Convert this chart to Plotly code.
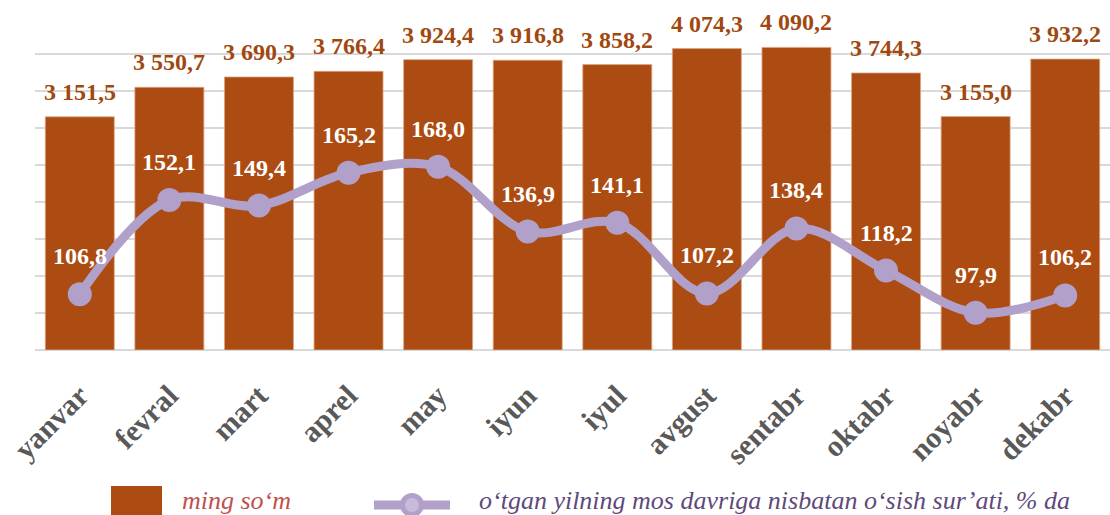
import plotly.graph_objects as go

months = ["yanvar", "fevral", "mart", "aprel", "may", "iyun", "iyul",
          "avgust", "sentabr", "oktabr", "noyabr", "dekabr"]
ming_som = [3151.5, 3550.7, 3690.3, 3766.4, 3924.4, 3916.8, 3858.2,
            4074.3, 4090.2, 3744.3, 3155.0, 3932.2]
osish = [106.8, 152.1, 149.4, 165.2, 168.0, 136.9, 141.1,
         107.2, 138.4, 118.2, 97.9, 106.2]
bar_name = "ming so‘m"
line_name = "o‘tgan yilning mos davriga nisbatan o‘sish sur’ati, % da"

W, H = 1110, 515
ML, MR, MT, MB = 35, 0, 17, 165
PW, PH = W - ML - MR, H - MT - MB

BAR_C = "#AD4C12"
BAR_LBL = "#A0480F"
LINE_C = "#B1A0C9"
SERIF = "Liberation Serif, Times New Roman, serif"


def fmt(v):
    return f"{v:,.1f}".replace(",", " ").replace(".", ",")


def px(x):
    return (x - ML) / PW


def py(y):
    return (H - MB - y) / PH


fig = go.Figure()
fig.add_trace(go.Bar(
    x=months, y=ming_som, name=bar_name,
    marker=dict(color=BAR_C, line=dict(color="#D9A583", width=0.8)),
    showlegend=False, hoverinfo="skip",
))
fig.add_trace(go.Scatter(
    x=months, y=osish, name=line_name, yaxis="y2",
    mode="lines+markers",
    line=dict(color=LINE_C, width=9, shape="spline", smoothing=1.0),
    marker=dict(color=LINE_C, size=24),
    showlegend=False, hoverinfo="skip",
))

annotations = []
for m, v in zip(months, ming_som):
    annotations.append(dict(
        x=m, y=v, xref="x", yref="y", text=fmt(v), showarrow=False,
        yanchor="middle", yshift=25,
        font=dict(family=SERIF, size=24, color=BAR_LBL, weight="bold"),
    ))
for m, v in zip(months, osish):
    annotations.append(dict(
        x=m, y=v, xref="x", yref="y2", text=fmt(v), showarrow=False,
        yanchor="middle", yshift=38,
        font=dict(family=SERIF, size=24, color="white", weight="bold"),
    ))

# legend (drawn manually)
shapes = [
    dict(type="rect", xref="paper", yref="paper",
         x0=px(111), x1=px(162), y0=py(486), y1=py(530),
         fillcolor=BAR_C, line=dict(width=0)),
    dict(type="line", xref="paper", yref="paper",
         x0=px(374), x1=px(450), y0=py(505), y1=py(505),
         line=dict(color=LINE_C, width=9)),
    dict(type="circle", xref="paper", yref="paper",
         x0=px(400), x1=px(424), y0=py(493), y1=py(517),
         fillcolor=LINE_C, line=dict(width=0)),
    dict(type="circle", xref="paper", yref="paper",
         x0=px(405), x1=px(419), y0=py(498), y1=py(512),
         fillcolor="#C7BBDA", line=dict(width=0)),
]
annotations.append(dict(
    x=px(180), y=py(500), xref="paper", yref="paper", text=bar_name,
    showarrow=False, xanchor="left", yanchor="middle",
    font=dict(family=SERIF, size=26, color="#C0504D", style="italic"),
))
annotations.append(dict(
    x=px(477), y=py(500), xref="paper", yref="paper", text=line_name,
    showarrow=False, xanchor="left", yanchor="middle",
    font=dict(family=SERIF, size=26, color="#604A7B", style="italic"),
))

fig.update_layout(
    width=W, height=H,
    margin=dict(l=ML, r=MR, t=MT, b=MB, pad=0),
    paper_bgcolor="white", plot_bgcolor="white",
    bargap=0.23,
    showlegend=False,
    xaxis=dict(
        type="category", range=[-0.5, 11.5],
        tickangle=-45, showgrid=False, zeroline=False,
        showline=False, ticks="",
        tickfont=dict(family=SERIF, size=30, color="#595959", weight="bold"),
        ticklabelstandoff=21,
    ),
    yaxis=dict(
        range=[0, 4501], tickvals=[0, 500, 1000, 1500, 2000, 2500, 3000, 3500, 4000, 4500],
        showticklabels=False,
        showgrid=True, gridcolor="#D9D9D9", gridwidth=1.5,
        zeroline=True, zerolinecolor="#D9D9D9", zerolinewidth=1.5,
        showline=False,
    ),
    yaxis2=dict(
        range=[80, 240], overlaying="y", side="right",
        showticklabels=False, showgrid=False, zeroline=False, showline=False,
    ),
    shapes=shapes,
    annotations=annotations,
)

fig.write_html(
    "out.html",
    config={"displayModeBar": False, "staticPlot": True},
    post_script="document.body.style.margin='0';document.body.style.overflow='hidden';",
)
